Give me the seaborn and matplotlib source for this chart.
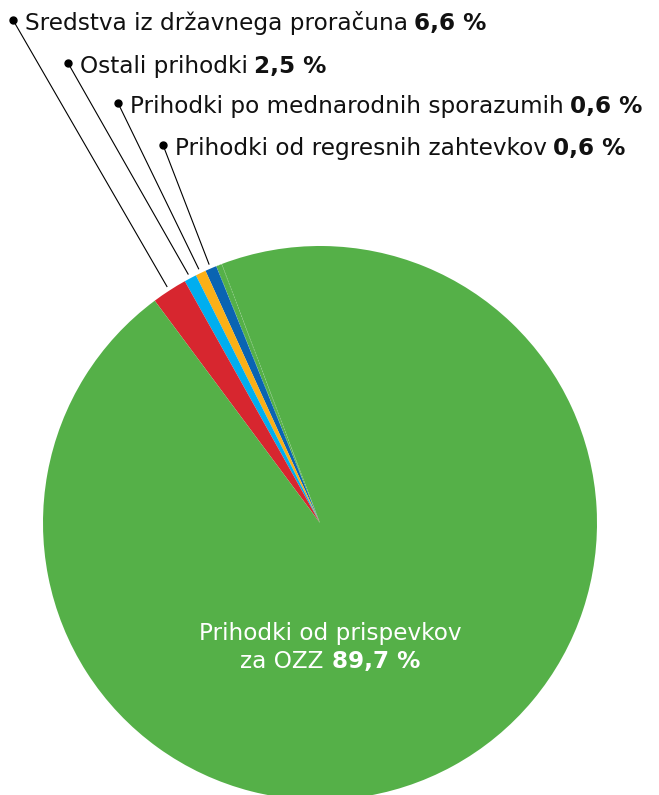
import matplotlib
matplotlib.use("Agg")
import numpy as np
import matplotlib.pyplot as plt
import seaborn as sns

# ---- DATA ----
# wedges as drawn in the picture, counterclockwise from the thin sliver at the top (percent of circle)
slice_names = ["sliver", "Prihodki od regresnih zahtevkov", "Prihodki po mednarodnih sporazumih",
               "Ostali prihodki", "Sredstva iz državnega proračuna", "Prihodki od prispevkov za OZZ"]
slice_shares = [0.35, 0.67, 0.61, 0.72, 2.06, 95.59]
slice_colors = ["#55b048", "#0a64b2", "#fbb017", "#00aeef", "#d7262f", "#55b048"]

# callout labels, top to bottom
callout_names = ["Sredstva iz državnega proračuna", "Ostali prihodki",
                 "Prihodki po mednarodnih sporazumih", "Prihodki od regresnih zahtevkov"]
callout_pct = ["6,6 %", "2,5 %", "0,6 %", "0,6 %"]
main_name = ["Prihodki od prispevkov", "za OZZ"]
main_pct = "89,7 %"

# ---- LAYOUT ----
W, H = 659, 795
cx, cy, R = 320, 523, 277          # pie centre and radius in pixels
dot_px = [(13, 20), (68, 63), (118, 103), (163, 145)]
start = 110.75

sns.set_theme(style="white")
plt.rcParams['font.family'] = ['DejaVu Sans']
FS = 16.7

fig = plt.figure(figsize=(W / 100, H / 100), dpi=100)
ax = fig.add_axes([0, 0, 1, 1])
wedges, _ = ax.pie(slice_shares, colors=slice_colors, startangle=start, counterclock=True,
                   radius=1, wedgeprops=dict(linewidth=0))
# faint dotted edge on the thin sliver
wedges[0].set_edgecolor((1, 1, 1, 0.35))
wedges[0].set_linestyle(':')
wedges[0].set_linewidth(0.8)

ax.set_xlim(-cx / R, (W - cx) / R)
ax.set_ylim(-(H - cy) / R, cy / R)
ax.set_aspect('auto')
ax.axis('off')

def px2data(px, py):
    return ((px - cx) / R, (cy - py) / R)

# leader lines go to the middle of each small wedge
cum = np.cumsum([0] + slice_shares)
wedge_idx = [slice_names.index(n) for n in callout_names]
for (dx, dy), name, pct, k in zip(dot_px, callout_names, callout_pct, wedge_idx):
    ang = np.deg2rad(start + 3.6 * (cum[k] + slice_shares[k] / 2))
    ex, ey = 1.015 * np.cos(ang), 1.015 * np.sin(ang)
    x0, y0 = px2data(dx, dy)
    ax.plot([x0, ex], [y0, ey], color='black', lw=0.8, solid_capstyle='butt')
    ax.plot(x0, y0, 'o', color='black', ms=5)
    tx, ty = px2data(dx + 12, dy + 10)
    t = ax.text(tx, ty, name, fontsize=FS, color='#111111', ha='left', va='baseline')
    ax.annotate(pct, xy=(1, 0), xycoords=t, xytext=(4.5, 0), textcoords='offset points',
                fontsize=FS, fontweight='bold', color='#111111', ha='left', va='bottom')

# label inside the big wedge, both lines centred on x=330 px
x1, y1 = px2data(330, 640)
ax.text(x1, y1, main_name[0], fontsize=FS, color='white', ha='center', va='baseline')
ta = ax.text(0, 0, main_name[1], fontsize=FS, color='white', ha='left', va='baseline')
tb = ax.text(0, 0, main_pct, fontsize=FS, fontweight='bold', color='white', ha='left', va='baseline')
fig.canvas.draw()
r = fig.canvas.get_renderer()
wa = ta.get_window_extent(r).width
wb = tb.get_window_extent(r).width
gap = 9
left = 330 - (wa + gap + wb) / 2
ta.set_position(px2data(left, 668))
tb.set_position(px2data(left + wa + gap, 668))

plt.savefig('out.png', dpi=100)
